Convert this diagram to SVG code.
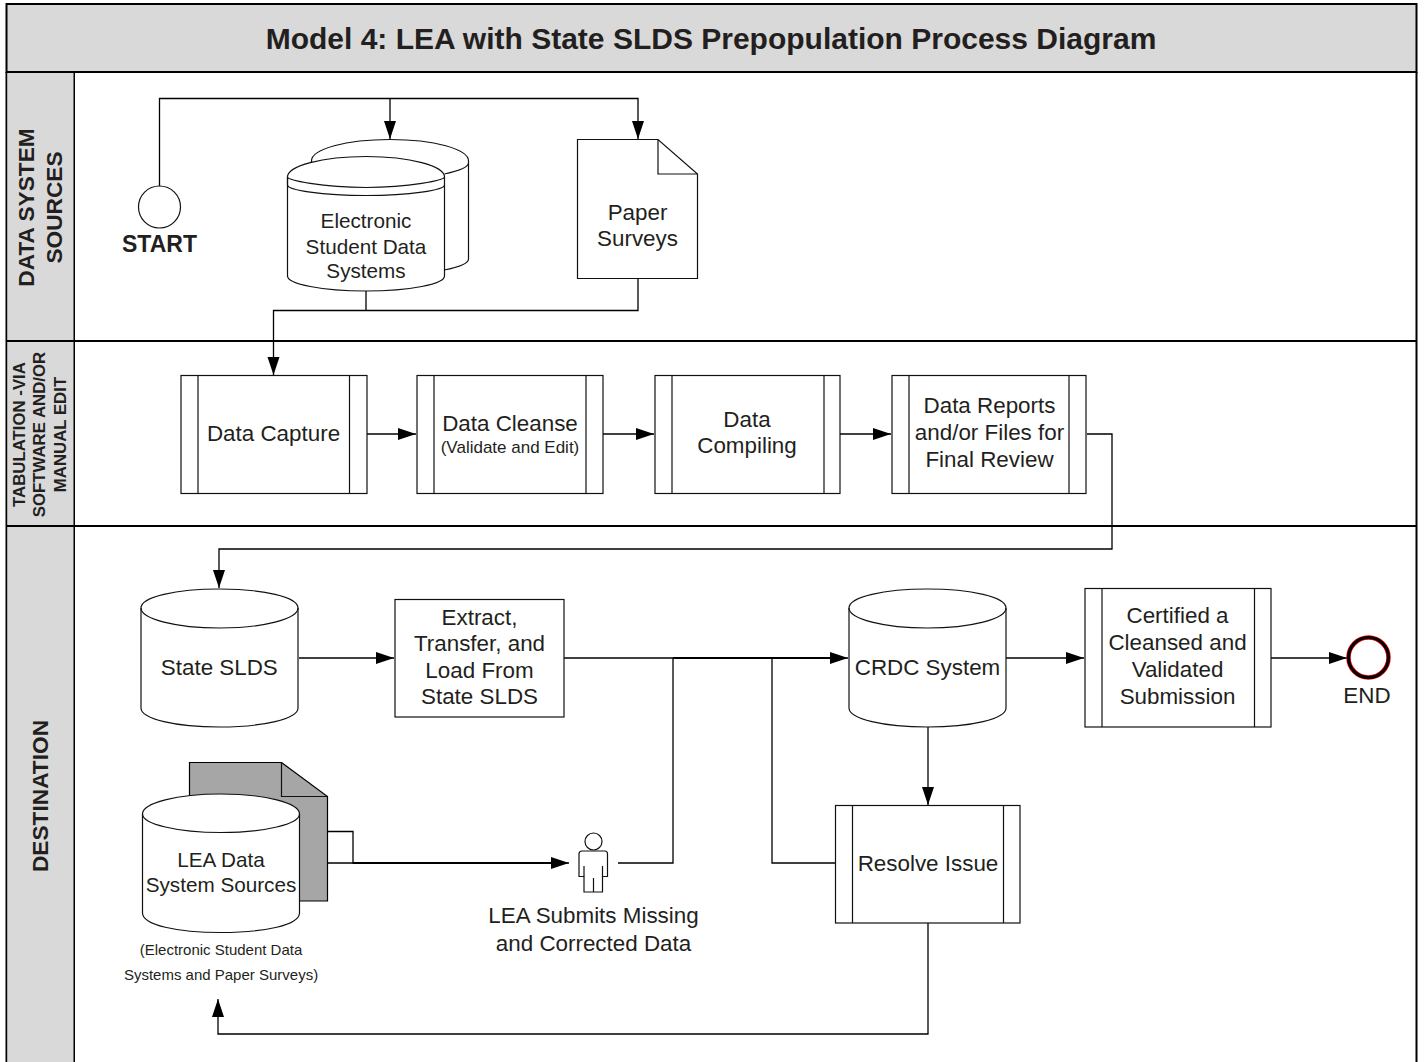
<svg xmlns="http://www.w3.org/2000/svg" width="1424" height="1062" viewBox="0 0 1424 1062">
<style>
text{font-family:"Liberation Sans",Arial,sans-serif;fill:#231f20;text-anchor:middle}
.t{font-size:22.4px}
.m{font-size:20.7px}
.s{stroke:#111;stroke-width:1.2;fill:#fff}
.n{stroke:#111;stroke-width:1.2;fill:none}
.lane{fill:#d9d9d9;stroke:#000;stroke-width:2}
.h{font-weight:bold;font-size:22.7px}
.c{stroke:#000;stroke-width:1.3;fill:none}
.b{stroke:#000;stroke-width:2;fill:none}
</style>
<defs>
<marker id="a" markerUnits="userSpaceOnUse" markerWidth="20" markerHeight="14" refX="18" refY="6.500" orient="auto"><path d="M0 0.500L18 6.500L0 12.500Z" fill="#000"/></marker>
</defs>
<rect width="1424" height="1062" fill="#fff"/>
<g id="frame">
<rect x="6.500" y="4" width="1410" height="68" class="lane"/>
<text x="711" y="48.500" font-size="30" font-weight="bold">Model 4: LEA with State SLDS Prepopulation Process Diagram</text>
<path d="M6.500 72V1064M1416.500 72V1064M74 72V1064M6.500 341H1416.500M6.500 526H1416.500" stroke="#000" stroke-width="2" fill="none"/>
<rect x="7.500" y="73" width="66" height="267" fill="#d9d9d9"/>
<rect x="7.500" y="342" width="66" height="183" fill="#d9d9d9"/>
<rect x="7.500" y="527" width="66" height="536" fill="#d9d9d9"/>
</g>
<g id="lane-sources"><text class="h" transform="translate(34 207.500) rotate(-90)">DATA SYSTEM<tspan x="0" dy="28">SOURCES</tspan></text></g>
<g id="lane-tabulation"><text font-weight="bold" font-size="16.800" transform="translate(25 434.500) rotate(-90)">TABULATION -VIA<tspan x="0" dy="20">SOFTWARE AND/OR</tspan><tspan x="0" dy="20.500">MANUAL EDIT</tspan></text></g>
<g id="lane-destination"><text class="h" transform="translate(48 796) rotate(-90)">DESTINATION</text></g>

<g id="connectors">
<path class="c" d="M159.500 186V98.500H638V139" marker-end="url(#a)"/>
<path class="c" d="M390 98.500V139" marker-end="url(#a)"/>
<path class="c" d="M366 291V310.500"/>
<path class="c" d="M638 278V310.500H273.500V375" marker-end="url(#a)"/>
<path class="c" d="M367 434H416" marker-end="url(#a)"/>
<path class="c" d="M603 434H654" marker-end="url(#a)"/>
<path class="c" d="M840 434H891" marker-end="url(#a)"/>
<path class="c" d="M1087 434H1112V549H219V588" marker-end="url(#a)"/>
<path class="c" d="M299 658H394" marker-end="url(#a)"/>
<path class="c" d="M564 658H848" marker-end="url(#a)"/>
<path class="b" d="M673 658H835"/>
<path class="c" d="M1006 658H1084" marker-end="url(#a)"/>
<path class="c" d="M1271 658H1347" marker-end="url(#a)"/>
<path class="c" d="M928 726V805" marker-end="url(#a)"/>
<path class="c" d="M835 863H772V658"/>
<path class="c" d="M618 863H673V658"/>
<path class="c" d="M300 863H552"/>
<path class="c" d="M327 831.500H353V863H569" marker-end="url(#a)"/>
<path class="b" d="M353 863H552"/>
<path class="c" d="M928 923V1034H218V999" marker-end="url(#a)"/>
</g>

<g id="start">
<ellipse cx="159.500" cy="207" rx="21" ry="21" class="s"/>
<text x="159.500" y="252" font-size="23" font-weight="bold">START</text>
</g>
<g id="electronic">
<path class="s" d="M311.500 161C311.500 149 346 139.500 390 139.500S468.500 149 468.500 161V259C468.500 263 460 267 444 270V200L311.500 170Z"/>
<path class="n" d="M311.500 161V170M468.500 163C468.500 167 458 171 444.500 174"/>
<path class="s" d="M287.500 177C287.500 166 322 156.500 366 156.500S444.500 166 444.500 177V276C444.500 284 410 291 366 291S287.500 284 287.500 276Z"/>
<path class="n" d="M287.500 177C287.500 180 322 187.500 366 187.500S444.500 180 444.500 177M287.500 177V185C287.500 190 322 195.500 366 195.500S444.500 190 444.500 185"/>
<text class="m" x="366" y="228">Electronic<tspan x="366" dy="25.500">Student Data</tspan><tspan x="366" dy="24.500">Systems</tspan></text>
</g>
<g id="paper">
<path class="s" d="M577.500 139.500H658L697.500 174V278.500H577.500Z"/>
<path class="n" d="M658 139.500V174H697.500"/>
<text class="t" x="637.500" y="220">Paper<tspan x="637.500" dy="26">Surveys</tspan></text>
</g>
<g id="data-capture"><rect x="181" y="375.500" width="186" height="118" class="s"/><path class="n" d="M198 375.500V493.500M349.500 375.500V493.500"/><text class="t" x="273.500" y="441">Data Capture</text></g>
<g id="data-cleanse"><rect x="417" y="375.500" width="186" height="118" class="s"/><path class="n" d="M434 375.500V493.500M586 375.500V493.500"/><text class="t" x="510" y="431">Data Cleanse</text><text x="510" y="453" font-size="17">(Validate and Edit)</text></g>
<g id="data-compiling"><rect x="655" y="375.500" width="185" height="118" class="s"/><path class="n" d="M672 375.500V493.500M824 375.500V493.500"/><text class="t" x="747" y="427">Data<tspan x="747" dy="26">Compiling</tspan></text></g>
<g id="data-reports"><rect x="892" y="375.500" width="194" height="118" class="s"/><path class="n" d="M909 375.500V493.500M1069 375.500V493.500"/><text class="t" x="989.500" y="413">Data Reports<tspan x="989.500" dy="27">and/or Files for</tspan><tspan x="989.500" dy="27">Final Review</tspan></text></g>
<g id="state-slds">
<path class="s" d="M141 608C141 597 176 589 219.500 589S298 597 298 608V708C298 719 263 727 219.500 727S141 719 141 708Z"/>
<path class="n" d="M141 608C141 619 176 628 219.500 628S298 619 298 608"/>
<text class="t" x="219.300" y="675">State SLDS</text>
</g>
<g id="extract"><rect x="395" y="599.500" width="169" height="117.500" class="s"/><text class="t" x="479.500" y="624.500">Extract,<tspan x="479.500" dy="26.500">Transfer, and</tspan><tspan x="479.500" dy="26.500">Load From</tspan><tspan x="479.500" dy="26.500">State SLDS</tspan></text></g>
<g id="crdc">
<path class="s" d="M849 608C849 597 884 589 927.500 589S1006 597 1006 608V708C1006 719 971 727 927.500 727S849 719 849 708Z"/>
<path class="n" d="M849 608C849 619 884 628 927.500 628S1006 619 1006 608"/>
<text class="t" x="927.500" y="675">CRDC System</text>
</g>
<g id="certified"><rect x="1085" y="588.500" width="186" height="138.500" class="s"/><path class="n" d="M1102 588.500V727M1254.500 588.500V727"/><text class="t" x="1177.500" y="623">Certified a<tspan x="1177.500" dy="27">Cleansed and</tspan><tspan x="1177.500" dy="27">Validated</tspan><tspan x="1177.500" dy="27">Submission</tspan></text></g>
<g id="end">
<circle cx="1368.500" cy="657.500" r="20" fill="#fff" stroke="#e00" stroke-width="4.500"/>
<circle cx="1368.500" cy="657.500" r="20" fill="none" stroke="#000" stroke-width="3"/>
<text class="t" x="1367" y="703">END</text>
</g>
<g id="resolve"><rect x="835.500" y="805.500" width="184.500" height="117.500" class="s"/><path class="n" d="M852.500 805.500V923M1003.500 805.500V923"/><text class="t" x="928" y="870.500">Resolve Issue</text></g>
<g id="lea-sources">
<path d="M189.500 762.500H281.500L327.500 796.500V901H189.500Z" fill="#a6a6a6" stroke="#000" stroke-width="1.200"/>
<path class="n" d="M281.500 762.500V796.500H327.500"/>
<path class="s" d="M142.500 814C142.500 803 177 794 221 794S299.500 803 299.500 814V913C299.500 925 265 932.500 221 932.500S142.500 925 142.500 913Z"/>
<path class="n" d="M142.500 814C142.500 824 177 832.500 221 832.500S299.500 824 299.500 814"/>
<text class="m" x="221" y="867">LEA Data<tspan x="221" dy="25">System Sources</tspan></text>
<text font-size="15" x="221" y="955">(Electronic Student Data<tspan x="221" dy="25">Systems and Paper Surveys)</tspan></text>
</g>
<g id="lea-person">
<circle cx="593.500" cy="841.500" r="8.500" class="s"/>
<path class="s" d="M582 851H605Q607.500 851 607.500 854V876.500H602.500V892H584V876.500H579V854Q579 851 582 851Z"/>
<path class="n" d="M584 866V876.500M602.500 866V876.500M593.500 878V892"/>
<text class="t" x="593.500" y="923">LEA Submits Missing<tspan x="593.500" dy="28">and Corrected Data</tspan></text>
</g>
</svg>
